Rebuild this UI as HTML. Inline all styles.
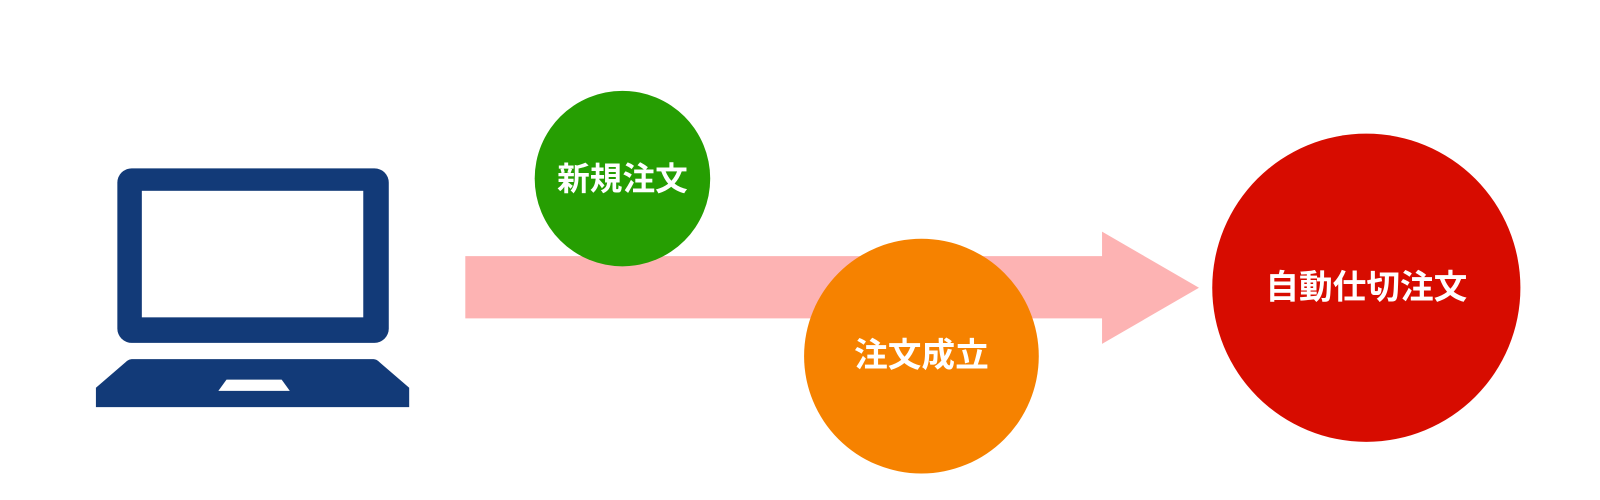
<!DOCTYPE html>
<html><head><meta charset="utf-8"><style>
html,body{margin:0;padding:0;background:#fff;width:1600px;height:500px;overflow:hidden}
svg{display:block}
text{font-family:"Liberation Sans","Noto Sans CJK JP",sans-serif;font-weight:bold;fill:#fff;text-anchor:middle;dominant-baseline:central}
</style></head><body>
<svg width="1600" height="500" viewBox="0 0 1568 490" preserveAspectRatio="none">
<rect x="115" y="165" width="266" height="171" rx="14" fill="#123a78"/>
<rect x="139" y="187" width="217" height="124" fill="#fff"/>
<path d="M129 352 H366 Q369 352 372 355 L401 380 V399 H94 V380 L123 355 Q126 352 129 352 Z" fill="#123a78"/>
<path d="M222 372 H276 L284 383 H214 Z" fill="#fff"/>
<path d="M456 251 H1080 V227 L1175 282 L1080 337 V312 H456 Z" fill="#fdb3b3"/>
<circle cx="610" cy="175" r="86" fill="#269e02"/>
<text x="610" y="175" font-size="32">新規注文</text>
<circle cx="903" cy="349" r="115" fill="#f68200"/>
<text x="903" y="349" font-size="33">注文成立</text>
<circle cx="1339" cy="282" r="151" fill="#d70c00"/>
<text x="1339" y="282" font-size="33">自動仕切注文</text>
</svg>
</body></html>
